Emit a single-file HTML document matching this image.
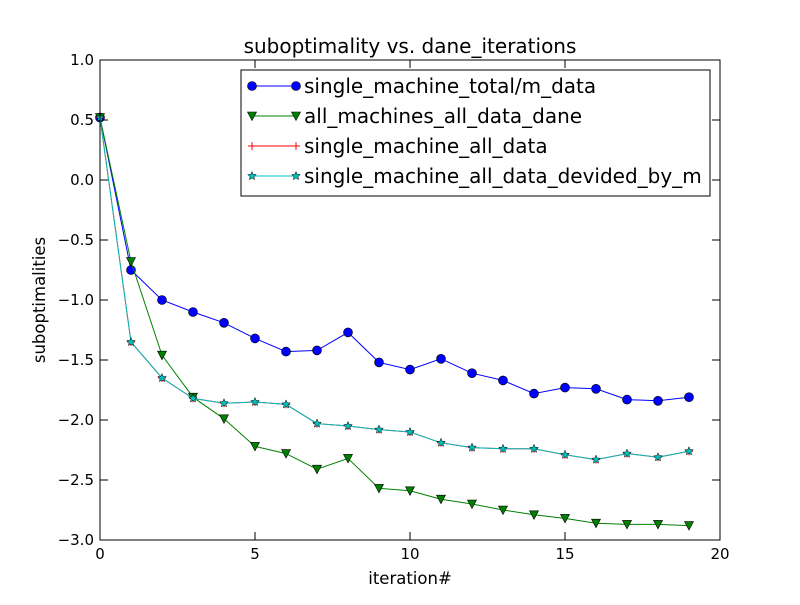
<!DOCTYPE html>
<html><head><meta charset="utf-8"><style>
body{margin:0;background:#fff;}
svg{font-family:"DejaVu Sans","Liberation Sans",sans-serif;}
</style></head><body>
<svg id="chart" width="800" height="600" xmlns="http://www.w3.org/2000/svg">
<rect width="800" height="600" fill="#fff"/>
<g id="grid"></g>
<g id="series"></g>
<rect x="100" y="60" width="620" height="480" fill="none" stroke="#000" stroke-width="1"/>
<text x="410" y="53" font-size="20" text-anchor="middle">suboptimality vs. dane_iterations</text>
<text x="410" y="584" font-size="16.5" text-anchor="middle">iteration#</text>
<text transform="translate(45,300) rotate(-90)" font-size="16.5" text-anchor="middle">suboptimalities</text>
<g id="legend"></g>
</svg>
<script>
const iterations=[0,1,2,3,4,5,6,7,8,9,10,11,12,13,14,15,16,17,18,19];
const singleMachineTotalM=[0.52,-0.75,-1.0,-1.1,-1.19,-1.32,-1.43,-1.42,-1.27,-1.52,-1.58,-1.49,-1.61,-1.67,-1.78,-1.73,-1.74,-1.83,-1.84,-1.81];
const allMachinesDane=[0.52,-0.68,-1.46,-1.81,-1.99,-2.22,-2.28,-2.41,-2.32,-2.57,-2.59,-2.66,-2.7,-2.75,-2.79,-2.82,-2.86,-2.87,-2.87,-2.88];
const singleMachineAll=[0.52,-1.35,-1.65,-1.82,-1.86,-1.85,-1.87,-2.03,-2.05,-2.08,-2.1,-2.19,-2.23,-2.24,-2.24,-2.29,-2.33,-2.28,-2.31,-2.26];
const singleMachineAllDivM=[0.52,-1.35,-1.65,-1.82,-1.86,-1.85,-1.87,-2.03,-2.05,-2.08,-2.1,-2.19,-2.23,-2.24,-2.24,-2.29,-2.33,-2.28,-2.31,-2.26];
const xTicks=[0,5,10,15,20];
const yTicks=[1.0,0.5,0.0,-0.5,-1.0,-1.5,-2.0,-2.5,-3.0];
const seriesNames=["single_machine_total/m_data","all_machines_all_data_dane","single_machine_all_data","single_machine_all_data_devided_by_m"];
const NS="http://www.w3.org/2000/svg";
const X=v=>100+(v-0)/20*620;
const Y=v=>540-(v+3)/4*480;
function mk(t,a,p){const e=document.createElementNS(NS,t);for(const k in a)e.setAttribute(k,a[k]);p.appendChild(e);return e;}
const grid=document.getElementById('grid');
xTicks.forEach(t=>{
 const l1=mk('line',{x1:X(t),x2:X(t),y1:540,y2:532,stroke:'#000'},grid);
 
 mk('line',{x1:X(t),x2:X(t),y1:60,y2:68,stroke:'#000'},grid);
 const tx=mk('text',{x:X(t),y:559,'font-size':15,'text-anchor':'middle'},grid);tx.textContent=t;
 
});
yTicks.forEach(t=>{
 const l1=mk('line',{x1:100,x2:108,y1:Y(t),y2:Y(t),stroke:'#000'},grid);
 
 mk('line',{x1:712,x2:720,y1:Y(t),y2:Y(t),stroke:'#000'},grid);
 const tx=mk('text',{x:94,y:Y(t)+5,'font-size':15,'text-anchor':'end'},grid);tx.textContent=(t<0?'\u2212'+(-t).toFixed(1):t.toFixed(1));
 
});
function marker(kind,x,y,color,p){
 if(kind==='o')return mk('circle',{cx:x,cy:y,r:4.5,fill:color,stroke:'#000','stroke-width':0.6},p);
 if(kind==='v')return mk('polygon',{points:`${x-4.5},${y-4} ${x+4.5},${y-4} ${x},${y+4.5}`,fill:color,stroke:'#000','stroke-width':0.6},p);
 if(kind==='+'){const g=mk('g',{},p);mk('line',{x1:x-4,x2:x+4,y1:y,y2:y,stroke:color},g);mk('line',{x1:x,x2:x,y1:y-4,y2:y+4,stroke:color},g);return g;}
 let pts=[];for(let i=0;i<10;i++){const r=i%2?2:4.5,a=-Math.PI/2+i*Math.PI/5;pts.push((x+r*Math.cos(a)).toFixed(1)+','+(y+r*Math.sin(a)).toFixed(1));}
 return mk('polygon',{points:pts.join(' '),fill:color,stroke:'#000','stroke-width':0.5},p);
}
const sdefs=[[singleMachineTotalM,'#0000ff','o','series-single-machine-total-m'],[allMachinesDane,'#008000','v','series-all-machines-dane'],[singleMachineAll,'#ff0000','+','series-single-machine-all'],[singleMachineAllDivM,'#00bfbf','*','series-single-machine-all-div-m']];
const sg=document.getElementById('series');
sdefs.forEach(([d,c,m,n])=>{
 const g=mk('g',{},sg);
 mk('polyline',{points:d.map((v,i)=>X(iterations[i])+','+Y(v)).join(' '),fill:'none',stroke:c,'stroke-width':1},g);
 d.forEach((v,i)=>{const e=marker(m,X(iterations[i]),Y(v),c,g);});
});
const lg=document.getElementById('legend');

mk('rect',{x:241,y:70,width:469,height:126,fill:'#fff',stroke:'#000'},lg);
sdefs.forEach(([d,c,m],i)=>{
 const y=86+i*30;const g=mk('g',{},lg);
 
 mk('line',{x1:252,x2:296,y1:y,y2:y,stroke:c},g);
 marker(m,252,y,c,g);marker(m,296,y,c,g);
 const t=mk('text',{x:304,y:y+7,'font-size':20},g);t.textContent=seriesNames[i];
});
</script>
</body></html>
